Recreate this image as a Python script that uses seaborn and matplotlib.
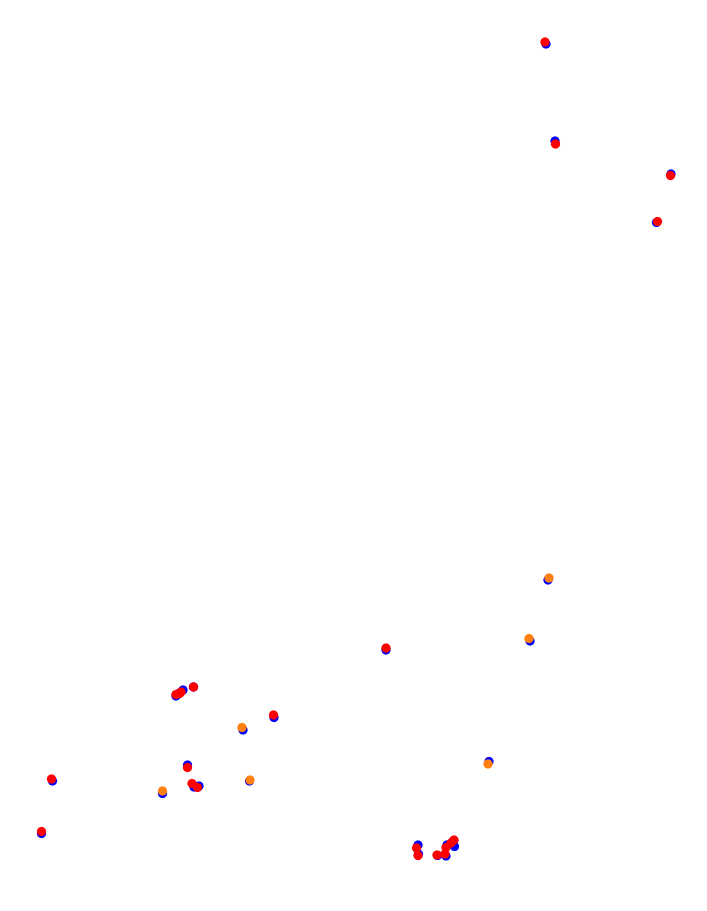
import pandas as pd
import seaborn as sns
import matplotlib.pyplot as plt

# positions (canvas units, y grows downward)
blue_x = [546, 555, 671, 656.5, 548, 530, 386, 489, 176, 183, 179.5, 193.5,
          274, 243, 187.5, 194, 199, 249.5, 162.5, 52.5, 41.5,
          418, 418.5, 437.5, 446, 447, 454.5, 453.5]
blue_y = [44, 141, 174, 222.5, 580, 641, 650, 761.5, 696, 690, 693, 687,
          717.5, 730, 765, 787, 786, 781, 793.5, 781, 833.5,
          845, 854, 855.5, 856, 845, 846.5, 841]

red_x = [545, 555.5, 670.5, 657.5, 386, 176, 179.5, 181, 193.5, 273.5,
         187.5, 192, 197.5, 51.5, 41.5, 416.5, 418, 437, 445, 446, 454, 451]
red_y = [42, 144, 175.5, 221.5, 648, 694.5, 693.5, 692, 687, 715,
         767.5, 783.5, 787.5, 779, 831.5, 848, 855.5, 855, 854, 847.5, 840, 843]

orange_x = [549, 529, 488, 242, 250, 162.5]
orange_y = [578, 638.5, 764, 727.5, 780, 791]

blue = pd.DataFrame({"x": blue_x, "y": blue_y, "group": "base"})
red = pd.DataFrame({"x": red_x, "y": red_y, "group": "red"})
orange = pd.DataFrame({"x": orange_x, "y": orange_y, "group": "orange"})
pts = pd.concat([blue, red, orange], ignore_index=True)

colors = {"base": "#0000ff", "red": "#ff0000", "orange": "#ff8010"}

fig = plt.figure(figsize=(7.07, 9.11), dpi=100)
ax = fig.add_axes([0, 0, 1, 1])

sns.scatterplot(data=pts, x="x", y="y", hue="group", palette=colors,
                s=44, linewidth=0, legend=False, ax=ax)

ax.set_xlim(0, 707)
ax.set_ylim(911, 0)
ax.axis("off")

fig.savefig("out.png", dpi=100)
